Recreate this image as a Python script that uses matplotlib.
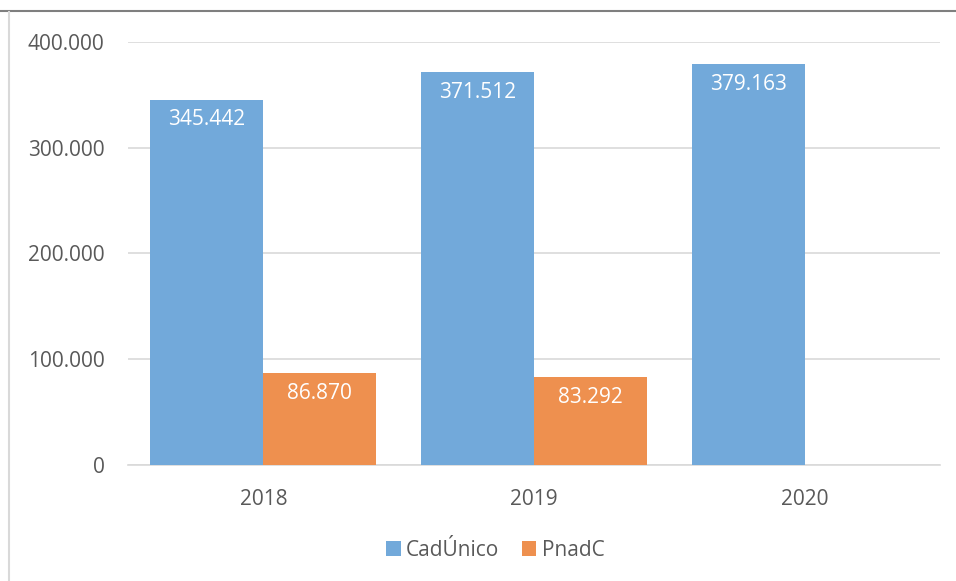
import matplotlib.pyplot as plt
from matplotlib.lines import Line2D
import numpy as np

anos = ['2018', '2019', '2020']
cadunico = [345442, 371512, 379163]
pnadc = [86870, 83292, None]
yticks = [0, 100000, 200000, 300000, 400000]


def fmt(v):
    return f'{v:,.0f}'.replace(',', '.')


plt.rcParams['font.family'] = ['Open Sans', 'DejaVu Sans']

fig = plt.figure(figsize=(9.56, 5.81), dpi=100)
ax = fig.add_axes([0.1339, 0.1997, 0.8494, 0.728])

x = np.arange(len(anos))
w = 0.417
azul = '#72a9da'
laranja = '#ee904f'

b1 = ax.bar(x - w / 2, cadunico, w, color=azul, label='CadÚnico', zorder=3)
px = [xi + w / 2 for xi, v in zip(x, pnadc) if v is not None]
pv = [v for v in pnadc if v is not None]
b2 = ax.bar(px, pv, w, color=laranja, label='PnadC', zorder=3)

for rect, v in zip(list(b1) + list(b2), cadunico + pv):
    ax.annotate(fmt(v), (rect.get_x() + rect.get_width() / 2, rect.get_height()),
                xytext=(0, -7), textcoords='offset points', ha='center', va='top',
                color='white', fontsize=15)

ax.set_xlim(-0.5, 2.5)
ax.set_ylim(0, 400000)
ax.set_yticks(yticks)
ax.set_yticklabels([fmt(v) for v in yticks])
ax.set_xticks(x)
ax.set_xticklabels(anos)
ax.tick_params(length=0, labelsize=15, labelcolor='#595959')
ax.tick_params(axis='y', pad=17)
ax.tick_params(axis='x', pad=17)
ax.grid(axis='y', color='#d9d9d9', linewidth=1.2, zorder=0)
for s in ['top', 'right', 'left']:
    ax.spines[s].set_visible(False)
ax.spines['bottom'].set_color('#d9d9d9')
ax.spines['bottom'].set_linewidth(1.2)

fig.legend(handles=[b1, b2], loc='center', bbox_to_anchor=(0.518, 1 - 550 / 581), ncol=2,
           frameon=False, fontsize=15, labelcolor='#595959', handlelength=0.7,
           handleheight=0.7, handletextpad=0.25, columnspacing=1.1)

# moldura
fig.add_artist(Line2D([0, 1], [1 - 10.5 / 581, 1 - 10.5 / 581], color='#7f7f7f', linewidth=1.5,
                      transform=fig.transFigure))
fig.add_artist(Line2D([9 / 956, 9 / 956], [0, 1 - 12 / 581], color='#d9d9d9', linewidth=1.5,
                      transform=fig.transFigure))

fig.savefig('out.png', dpi=100)
